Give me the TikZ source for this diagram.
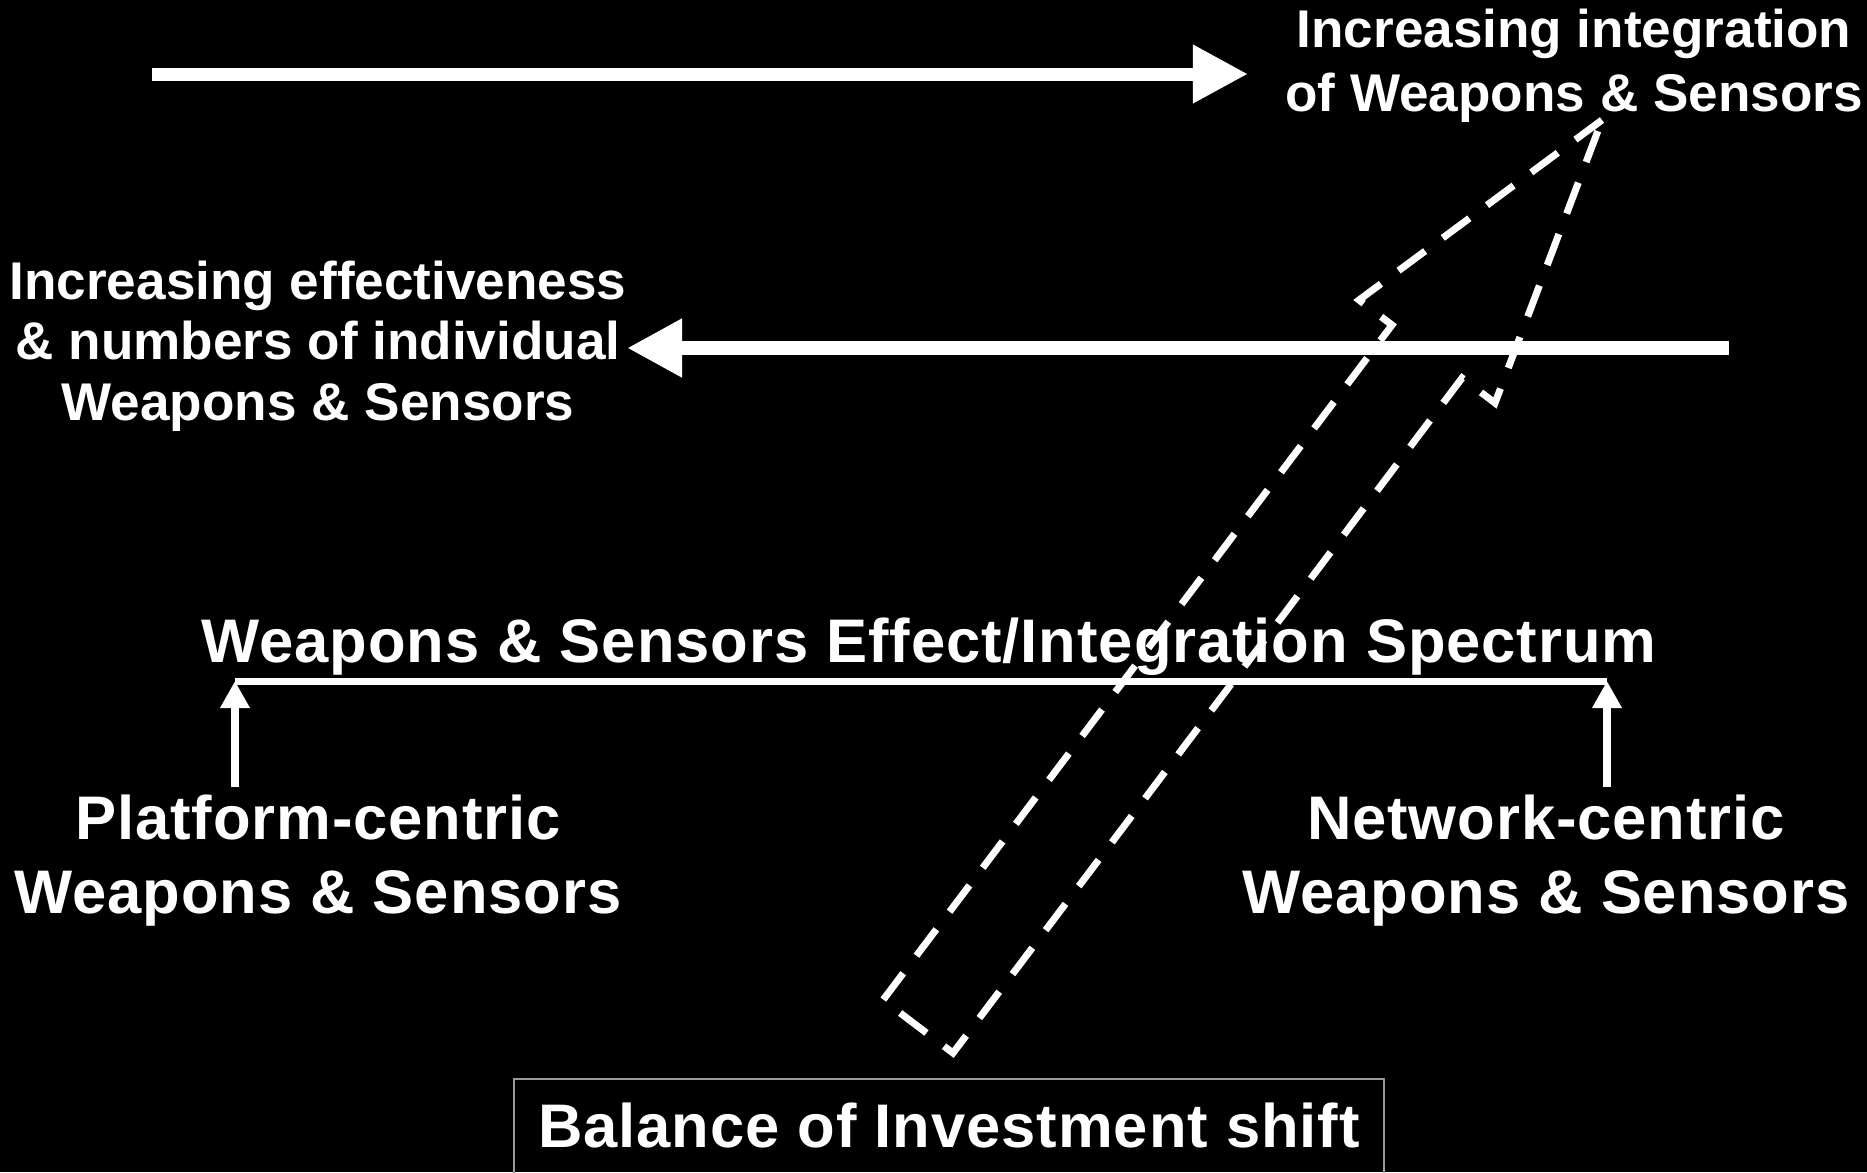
\documentclass[tikz,border=0pt]{standalone}
\usepackage{fontspec}
\setmainfont{Liberation Sans}
\usetikzlibrary{arrows.meta}

\tikzset{
  smalltext/.style={text=white, inner sep=0pt, align=center,
    font=\fontsize{15.1}{17.1}\selectfont\bfseries},
  bigtext/.style={text=white, inner sep=0pt, align=center,
    font=\fontsize{17.5}{21}\selectfont\bfseries\addfontfeatures{LetterSpace=1.5}},
  fatarrow/.style={white, line width=0.13cm, -{Triangle[length=0.55cm,width=0.55cm]}},
  thinarrow/.style={white, line width=0.08cm, -{Triangle[length=0.27cm,width=0.28cm]}},
  shiftarrow/.style={white, line width=0.07cm, dash pattern=on 0.33cm off 0.22cm, miter limit=10},
}

\begin{document}
\begin{tikzpicture}[x=0.01cm,y=-0.01cm]
    \fill[black] (0,0) rectangle (1867,1172);
    \useasboundingbox (0,0) rectangle (1867,1172);

%top arrow
    \coordinate (topstart) at (152,74);
    \coordinate (topend) at (1248,74);
    \draw [fatarrow] (topstart) -- (topend);
    \node[smalltext, anchor=base, font=\fontsize{15.1}{18.2}\selectfont\bfseries] (integration) at (1574,111) {Increasing integration\\of Weapons \& Sensors};

%middle arrow
    \coordinate (midstart) at (1729,348);
    \coordinate (midend) at (627,348);
    \draw [fatarrow, line width=0.14cm] (midstart) -- (midend);
    \node[smalltext, anchor=base] (effectiveness) at (318,420) {Increasing effectiveness\\\& numbers of individual\\Weapons \& Sensors};

%spectrum
    \node[bigtext, anchor=base] (spectrum) at (929,662) {Weapons \& Sensors Effect/Integration Spectrum};
    \coordinate (specleft) at (235,681);
    \coordinate (specright) at (1607,681);
    \draw [white, line width=0.07cm] (specleft) -- (specright);
    \coordinate (platbottom) at (235,787);
    \coordinate (netbottom) at (1607,787);
    \draw [thinarrow] (platbottom) -- (specleft);
    \draw [thinarrow] (netbottom) -- (specright);
    \node[bigtext, anchor=base] (platform) at (318,913) {Platform-centric\\Weapons \& Sensors};
    \node[bigtext, anchor=base] (network) at (1546,913) {Network-centric\\Weapons \& Sensors};

%shift arrow
    \coordinate (tip) at (1602,120);
    \coordinate (barbleft) at (1359,300);
    \coordinate (innerleft) at (1392,325);
    \coordinate (tailleft) at (883,1000);
    \coordinate (tailright) at (953,1053);
    \coordinate (innerright) at (1462,378);
    \coordinate (barbright) at (1495,403);
    \draw [shiftarrow] (tip) -- (barbleft) -- (innerleft) -- (tailleft) -- (tailright) -- (innerright) -- (barbright) -- cycle;

%balance box
    \draw [gray!80, line width=0.02cm] (514,1190) |- (1384,1079) -- (1384,1190);
    \node[bigtext, anchor=base] (balance) at (949,1147) {Balance of Investment shift};

\end{tikzpicture}
\end{document}
